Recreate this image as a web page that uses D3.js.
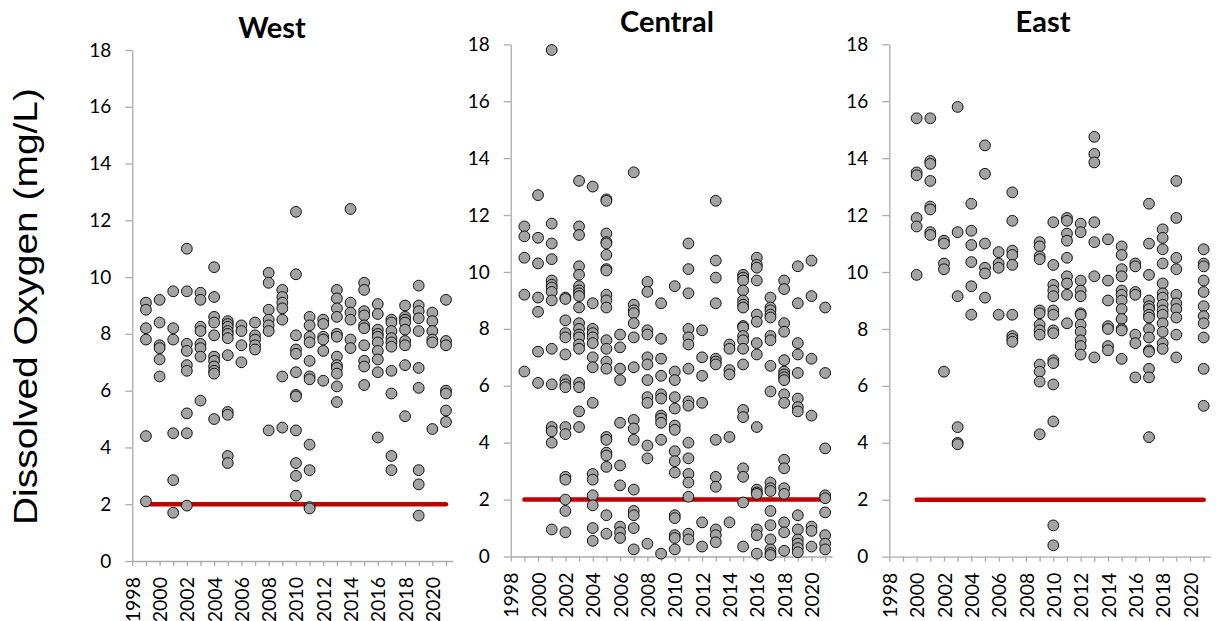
<!DOCTYPE html>
<html><head><meta charset="utf-8">
<script src="https://cdn.jsdelivr.net/npm/d3@7"></script>
<style>html,body{margin:0;padding:0;background:#fff;} svg{display:block;}</style>
</head><body>
<svg id="chart" width="1219" height="621"></svg>
<script>
// ---------- DATA ----------
const regionNames = ["West", "Central", "East"];
const yAxisTitle = "Dissolved Oxygen (mg/L)";
const thresholdValue = 2;
const thresholdSpans = [[1999, 2021], [1999, 2021], [2000, 2021]];
const yTickValues = [0, 2, 4, 6, 8, 10, 12, 14, 16, 18];
const xTickValues = [1998,1999,2000,2001,2002,2003,2004,2005,2006,2007,2008,2009,2010,2011,2012,2013,2014,2015,2016,2017,2018,2019,2020,2021];
const xLabelYears = [1998,2000,2002,2004,2006,2008,2010,2012,2014,2016,2018,2020];

const westYears = [1999,2000,2001,2002,2003,2004,2005,2006,2007,2008,2009,2010,2011,2012,2013,2014,2015,2016,2017,2018,2019,2020,2021];
const westValues = [
  [9.1, 8.85, 8.2, 7.8, 4.4, 2.1],
  [9.2, 8.4, 7.6, 7.5, 7.1, 6.5],
  [9.5, 8.2, 7.8, 4.5, 2.85, 1.7],
  [11.0, 9.5, 7.65, 7.4, 6.9, 6.7, 5.2, 4.5, 1.95],
  [9.45, 9.2, 8.25, 8.1, 7.65, 7.5, 7.2, 5.65],
  [10.35, 9.3, 8.6, 8.4, 7.95, 7.2, 7.05, 6.85, 6.7, 6.6, 5.0],
  [8.45, 8.35, 8.25, 8.1, 8.0, 7.85, 7.25, 5.25, 5.15, 3.7, 3.45],
  [8.3, 8.1, 7.6, 7.0],
  [8.4, 7.95, 7.8, 7.6, 7.45],
  [10.15, 9.8, 8.85, 8.5, 8.3, 8.1, 4.6],
  [9.55, 9.3, 9.1, 8.9, 8.5, 6.5, 4.7],
  [12.3, 10.1, 7.95, 7.45, 7.3, 6.65, 5.85, 5.8, 4.6, 3.45, 3.0, 2.3],
  [8.6, 8.3, 7.9, 7.7, 7.05, 6.5, 6.4, 4.1, 3.2, 1.9, 1.85],
  [8.5, 8.35, 7.9, 7.8, 7.4, 6.35],
  [9.55, 9.25, 8.9, 8.6, 8.0, 7.9, 7.2, 6.9, 6.8, 6.6, 6.15, 5.6],
  [12.4, 9.1, 8.75, 8.5, 7.8, 7.5],
  [9.8, 9.55, 8.8, 8.65, 8.3, 8.2, 7.6, 7.05, 6.85, 6.2],
  [9.05, 8.7, 8.15, 8.0, 7.9, 7.7, 7.4, 7.1, 6.65, 4.35],
  [8.5, 8.4, 8.1, 7.85, 7.7, 7.55, 6.7, 5.9, 3.7, 3.2],
  [9.0, 8.6, 8.5, 8.4, 8.15, 7.75, 7.6, 6.9, 5.1],
  [9.7, 9.0, 8.8, 8.55, 8.1, 6.8, 6.1, 3.2, 2.7, 1.6],
  [8.75, 8.45, 8.1, 7.8, 7.7, 4.65],
  [9.2, 7.75, 7.6, 6.0, 5.9, 5.3, 4.9]
];

const centralYears = [1999,2000,2001,2002,2003,2004,2005,2006,2007,2008,2009,2010,2011,2012,2013,2014,2015,2016,2017,2018,2019,2020,2021];
const centralValues = [
  [11.6, 11.25, 10.5, 9.2, 6.5],
  [12.7, 11.2, 10.3, 9.1, 8.6, 7.2, 6.1],
  [17.8, 11.7, 11.0, 10.45, 9.7, 9.55, 9.45, 9.3, 9.0, 7.3, 6.05, 4.55, 4.4, 4.0, 0.95],
  [9.1, 9.05, 8.3, 7.85, 7.7, 7.1, 6.2, 6.05, 5.95, 4.55, 4.3, 2.8, 2.7, 2.0, 1.6, 0.85],
  [13.2, 11.6, 11.3, 10.2, 9.9, 9.5, 9.35, 9.25, 9.15, 8.75, 8.2, 8.0, 7.8, 7.7, 7.45, 7.3, 6.1, 5.95, 5.1, 4.55],
  [13.0, 8.9, 8.0, 7.85, 7.7, 7.5, 7.0, 6.65, 5.4, 2.9, 2.7, 2.15, 1.8, 1.0, 0.55],
  [12.55, 12.5, 11.35, 11.05, 11.0, 10.6, 10.1, 10.05, 9.2, 9.0, 8.75, 7.6, 7.3, 6.85, 6.6, 4.2, 4.1, 3.65, 3.55, 3.15, 1.45, 0.8],
  [7.8, 7.35, 6.6, 6.2, 4.7, 3.2, 2.5, 1.05, 0.85, 0.65],
  [13.5, 8.85, 8.65, 8.55, 8.2, 7.7, 6.65, 4.8, 4.5, 4.1, 2.35, 1.6, 1.45, 1.0, 0.25],
  [9.65, 9.3, 7.95, 7.8, 7.0, 6.75, 6.2, 5.6, 5.4, 3.9, 3.45, 0.45],
  [8.9, 7.65, 6.95, 6.35, 5.7, 5.55, 4.95, 4.85, 4.7, 4.1, 0.1],
  [9.5, 6.5, 6.2, 5.6, 5.2, 4.6, 4.45, 3.7, 3.35, 2.95, 1.45, 1.35, 0.75, 0.65, 0.25],
  [11.0, 10.1, 9.25, 8.0, 7.7, 7.45, 6.6, 5.45, 5.3, 4.0, 3.45, 2.9, 2.6, 2.1, 0.8, 0.6],
  [7.95, 7.0, 6.35, 5.4, 1.2, 0.35],
  [12.5, 10.4, 9.8, 8.9, 6.95, 6.85, 6.75, 4.1, 2.8, 2.45, 0.95, 0.75, 0.5],
  [7.45, 7.3, 6.55, 6.4, 4.2, 1.2],
  [9.9, 9.8, 9.7, 9.35, 9.0, 8.85, 8.75, 8.1, 8.05, 7.75, 7.6, 7.3, 6.75, 5.15, 4.9, 3.1, 2.8, 1.9, 0.35],
  [10.5, 10.25, 10.15, 9.7, 8.5, 8.25, 7.5, 7.1, 4.55, 2.35, 2.25, 2.2, 0.95, 0.75, 0.1],
  [9.1, 8.75, 8.65, 8.5, 8.4, 7.75, 7.6, 6.7, 5.8, 2.6, 2.4, 2.3, 1.6, 1.1, 0.6, 0.25, 0.12, 0.05],
  [9.7, 9.4, 8.2, 7.9, 6.9, 6.5, 6.4, 6.3, 6.2, 5.7, 5.4, 3.4, 3.1, 2.4, 2.2, 1.2, 0.85, 0.2],
  [10.2, 8.9, 7.5, 7.1, 6.45, 5.55, 5.25, 5.1, 1.45, 0.95, 0.6, 0.45, 0.3, 0.15],
  [10.4, 9.15, 6.95, 4.95, 1.05, 0.9, 0.35],
  [8.75, 6.45, 3.8, 2.15, 2.05, 1.55, 0.75, 0.45, 0.25]
];

const eastYears = [2000,2001,2002,2003,2004,2005,2006,2007,2009,2010,2011,2012,2013,2014,2015,2016,2017,2018,2019,2021];
const eastValues = [
  [15.4, 13.5, 13.4, 11.9, 11.6, 9.9],
  [15.4, 13.9, 13.8, 13.2, 12.3, 12.2, 11.4, 11.3],
  [11.1, 11.0, 10.3, 10.1, 6.5],
  [15.8, 11.4, 9.15, 4.55, 4.0, 3.95],
  [12.4, 11.45, 10.95, 10.35, 9.5, 8.5],
  [14.45, 13.45, 11.0, 10.15, 9.95, 9.1],
  [10.7, 10.3, 10.15, 8.5],
  [12.8, 11.8, 10.75, 10.6, 10.25, 8.5, 7.75, 7.65, 7.55],
  [11.05, 10.9, 10.55, 10.45, 8.65, 8.55, 8.15, 7.95, 7.8, 6.75, 6.5, 6.15, 4.3],
  [11.75, 10.25, 9.55, 9.35, 9.15, 8.65, 8.5, 7.95, 7.85, 6.9, 6.8, 6.05, 4.75, 1.1, 0.4],
  [11.9, 11.8, 11.35, 11.1, 10.5, 9.85, 9.6, 9.2, 8.2],
  [11.7, 11.4, 9.7, 9.35, 9.15, 8.55, 8.5, 8.15, 7.9, 7.6, 7.4, 7.1],
  [14.75, 14.15, 13.85, 11.75, 11.05, 9.85, 7.0],
  [11.15, 9.7, 9.0, 8.1, 8.0, 7.4, 7.25],
  [10.9, 10.6, 10.1, 9.85, 9.35, 9.2, 9.0, 8.7, 8.35, 8.0, 7.95, 6.95],
  [10.3, 10.2, 9.3, 9.2, 7.8, 7.5, 6.3],
  [12.4, 11.0, 9.9, 9.0, 8.8, 8.7, 8.5, 8.4, 8.0, 7.7, 7.25, 7.2, 6.6, 6.3, 4.2],
  [11.5, 11.2, 10.8, 10.3, 9.6, 9.25, 9.1, 8.85, 8.65, 8.5, 8.2, 7.9, 7.5, 7.3],
  [13.2, 11.9, 10.5, 10.1, 9.2, 8.9, 8.7, 8.4, 7.8, 7.0],
  [10.8, 10.3, 10.2, 9.7, 9.3, 8.8, 8.45, 8.2, 7.7, 6.6, 5.3]
];

// ---------- LAYOUT ----------
const layout = [
  { left: 132.3, right: 452.8, top: 50,   bottom: 561,   titleX: 272,  titleY: 38 },
  { left: 510.7, right: 832.0, top: 44.3, bottom: 556.5, titleX: 667,  titleY: 32 },
  { left: 889.3, right: 1210.5, top: 44.3, bottom: 556.7, titleX: 1043, titleY: 32 }
];
const seriesYears = [westYears, centralYears, eastYears];
const seriesValues = [westValues, centralValues, eastValues];

const axisColor = "#ababab";
const tickFont = "Lato, 'Open Sans', sans-serif";

const svg = d3.select("#chart");
svg.append("rect").attr("width", 1219).attr("height", 621).attr("fill", "#fff");

regionNames.forEach((name, i) => {
  const L = layout[i];
  const x = d3.scaleLinear().domain([1998, 2021.5]).range([L.left, L.right]);
  const y = d3.scaleLinear().domain([0, 18]).range([L.bottom, L.top]);
  const g = svg.append("g");

  // Y axis
  const yAxis = d3.axisLeft(y).tickValues(yTickValues).tickSize(7).tickSizeOuter(0).tickPadding(14).tickFormat(d3.format("d"));
  const ya = g.append("g").attr("transform", `translate(${L.left},0)`).call(yAxis);
  ya.select(".domain").attr("stroke", axisColor).attr("stroke-width", 1.3);
  ya.selectAll(".tick line").attr("stroke", axisColor).attr("stroke-width", 1.3);
  ya.selectAll(".tick text").attr("fill", "#000").style("font-family", tickFont).style("font-size", "19px");

  // X axis
  const xAxis = d3.axisBottom(x).tickValues(xTickValues).tickSize(5).tickSizeOuter(0)
      .tickFormat(d => xLabelYears.includes(d) ? String(d) : "");
  const xa = g.append("g").attr("transform", `translate(0,${L.bottom})`).call(xAxis);
  xa.select(".domain").attr("stroke", axisColor).attr("stroke-width", 1.3);
  xa.selectAll(".tick line").attr("stroke", axisColor).attr("stroke-width", 1.3);
  xa.selectAll(".tick text")
    .attr("fill", "#000")
    .attr("x", 0).attr("y", 0).attr("dy", "0.36em")
    .attr("text-anchor", "end")
    .attr("transform", "translate(0,16) rotate(-90)")
    .style("font-family", tickFont).style("font-size", "19.5px");

  // Threshold line
  const span = thresholdSpans[i];
  g.append("line")
    .attr("x1", x(span[0])).attr("x2", x(span[1]))
    .attr("y1", y(thresholdValue)).attr("y2", y(thresholdValue))
    .attr("stroke", "#c00000").attr("stroke-width", 4.5).attr("stroke-linecap", "round");

  // Points
  const pts = seriesYears[i].flatMap((yr, k) => seriesValues[i][k].map(v => ({ year: yr, value: v })));
  g.append("g").selectAll("circle").data(pts).join("circle")
    .attr("cx", d => x(d.year)).attr("cy", d => y(d.value)).attr("r", 5.4)
    .attr("fill", "#a3a3a3").attr("stroke", "#111").attr("stroke-width", 1);

  // Title
  g.append("text").attr("x", L.titleX).attr("y", L.titleY).attr("text-anchor", "middle")
    .style("font-family", tickFont).style("font-weight", "bold").style("font-size", "29px")
    .attr("fill", "#000").text(name);
});

// Y axis title
svg.append("text")
  .attr("transform", "translate(36.7,306.5) rotate(-90)")
  .attr("text-anchor", "middle")
  .attr("textLength", 437).attr("lengthAdjust", "spacingAndGlyphs")
  .style("font-family", "'Liberation Sans', Arial, sans-serif").style("font-size", "32.5px")
  .attr("fill", "#000").text(yAxisTitle);
</script>
</body></html>
